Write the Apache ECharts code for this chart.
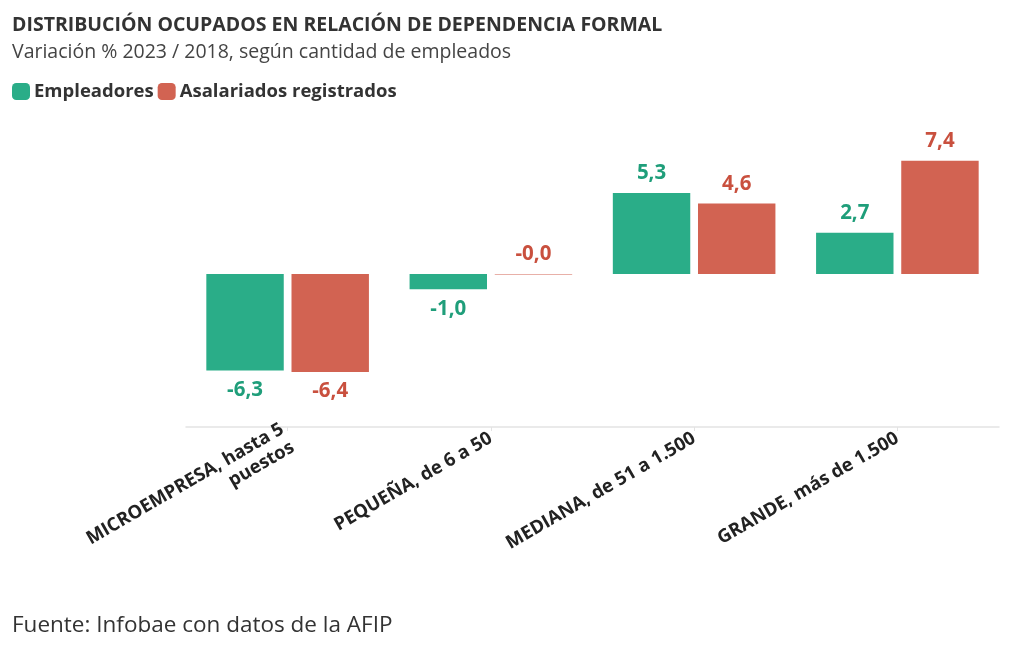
<!DOCTYPE html>
<html><head><meta charset="utf-8">
<script src="https://cdn.jsdelivr.net/npm/echarts@6/dist/echarts.min.js"></script>
<style>html,body{margin:0;padding:0;background:#fff}#c{width:1020px;height:650px}</style>
</head><body><div id="c"></div>
<script>
const categories = ['MICROEMPRESA, hasta 5\npuestos', 'PEQUEÑA, de 6 a 50', 'MEDIANA, de 51 a 1.500', 'GRANDE, más de 1.500'];
const empleadores = [-6.3, -1.0, 5.3, 2.7];
const asalariados = [-6.4, -0.04, 4.6, 7.4];
const seriesNames = ['Empleadores', 'Asalariados registrados'];

const FONT = 'Open Sans';
const GREEN = '#2aad88', RED = '#d26352';
const GREEN_T = '#1f9e7a', RED_T = '#c9503e';

function fmt(v){ return v.toFixed(1).replace('.', ','); }
function mk(vals){
  return vals.map(v => ({
    value: v,
    label: { position: v < -0.5 ? 'bottom' : 'top' }
  }));
}
const chart = echarts.init(document.getElementById('c'));
chart.setOption({
  animation: false,
  textStyle: { fontFamily: FONT },
  title: [
    { text: 'DISTRIBUCIÓN OCUPADOS EN RELACIÓN DE DEPENDENCIA FORMAL', subtext: 'Variación % 2023 / 2018, según cantidad de empleados',
      left: 12, top: 15, itemGap: 7, padding: 0,
      textStyle: { fontFamily: FONT, fontWeight: 'bold', fontSize: 19.5, color: '#333' },
      subtextStyle: { fontFamily: FONT, fontSize: 19.5, color: '#444' } },
    { text: 'Fuente: Infobae con datos de la AFIP', left: 12, top: 614, padding: 0,
      textStyle: { fontFamily: FONT, fontWeight: 'normal', fontSize: 22.5, color: '#333' } }
  ],
  legend: { left: 12, top: 82, padding: 0, itemWidth: 18, itemHeight: 17, itemGap: 4, icon: 'roundRect',
    textStyle: { fontFamily: FONT, fontWeight: 'bold', fontSize: 18.5, color: '#333', padding: [0,0,0,-1] },
    data: seriesNames },
  grid: { left: 186, right: 21, top: 121, bottom: 223 },
  xAxis: { type: 'category', data: categories,
    axisLine: { onZero: false, lineStyle: { color: '#e3e3e3', width: 1.5 } },
    axisTick: { show: true, alignWithLabel: true, length: 4, lineStyle: { color: '#e3e3e3' } },
    axisLabel: { rotate: 30, margin: 10, fontFamily: FONT, fontWeight: 'bold', fontSize: 18.5, color: '#222', lineHeight: 21, interval: 0 } },
  yAxis: { type: 'value', min: -10, max: 10, show: false, splitLine: { show: false } },
  series: [
    { name: seriesNames[0], type: 'bar', data: mk(empleadores), barGap: '10%', barCategoryGap: '20%',
      itemStyle: { color: GREEN },
      label: { show: true, distance: 9, fontFamily: FONT, fontWeight: 'bold', fontSize: 20.5, color: GREEN_T, formatter: p => fmt(p.value) } },
    { name: seriesNames[1], type: 'bar', data: mk(asalariados), barGap: '10%', barCategoryGap: '20%',
      itemStyle: { color: RED },
      label: { show: true, distance: 9, fontFamily: FONT, fontWeight: 'bold', fontSize: 20.5, color: RED_T, formatter: p => fmt(p.value) } }
  ]
});
</script></body></html>
